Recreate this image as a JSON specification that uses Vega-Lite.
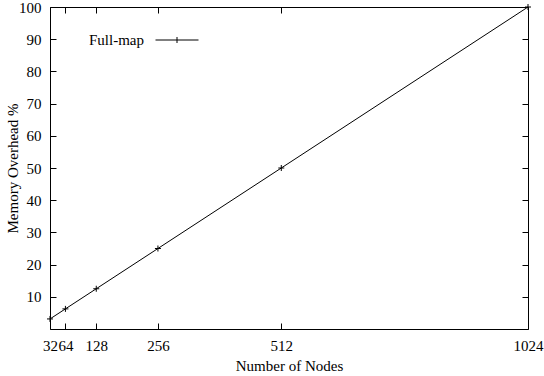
{
  "$schema": "https://vega.github.io/schema/vega-lite/v6.json",
  "width": 478,
  "height": 322,
  "autosize": {"type": "none"},
  "padding": {"left": 50, "top": 7, "right": 16, "bottom": 47},
  "background": "white",
  "config": {
    "view": {"stroke": "black", "strokeWidth": 1},
    "font": "Liberation Serif",
    "axis": {
      "labelFont": "Liberation Serif",
      "titleFont": "Liberation Serif",
      "labelFontSize": 15,
      "titleFontSize": 15,
      "titleFontWeight": "normal",
      "labelColor": "black",
      "titleColor": "black",
      "tickColor": "black",
      "domain": false,
      "grid": false,
      "tickSize": -6,
      "labelOverlap": false,
      "labelFlush": false
    }
  },
  "data": {
    "values": [
      {"nodes": 32, "overhead": 3.125, "series": "Full-map"},
      {"nodes": 64, "overhead": 6.25, "series": "Full-map"},
      {"nodes": 128, "overhead": 12.5, "series": "Full-map"},
      {"nodes": 256, "overhead": 25, "series": "Full-map"},
      {"nodes": 512, "overhead": 50, "series": "Full-map"},
      {"nodes": 1024, "overhead": 100, "series": "Full-map"}
    ]
  },
  "layer": [
    {
      "mark": {
        "type": "line",
        "strokeWidth": 1,
        "point": {"shape": "M-1,0H1M0,-1V1", "size": 36, "filled": false, "strokeWidth": 1}
      },
      "encoding": {
        "x": {
          "field": "nodes", "type": "quantitative",
          "scale": {"domain": [32, 1024], "nice": false, "zero": false},
          "axis": {"orient": "bottom", "values": [32, 64, 128, 256, 512, 1024], "format": "d", "title": "Number of Nodes", "labelPadding": 15, "titlePadding": 5}
        },
        "y": {
          "field": "overhead", "type": "quantitative",
          "scale": {"domain": [0, 100], "nice": false},
          "axis": {"orient": "left", "values": [10, 20, 30, 40, 50, 60, 70, 80, 90, 100], "format": "d", "title": "Memory Overhead %", "labelPadding": 15, "titlePadding": -2}
        },
        "color": {
          "field": "series", "type": "nominal",
          "scale": {"range": ["black"]},
          "legend": {
            "orient": "none", "legendX": 105, "legendY": 11, "title": null, "padding": 0,
            "symbolType": "M-1,0H1M0,-0.14V0.14", "symbolSize": 1849, "symbolStrokeWidth": 1,
            "symbolStrokeColor": "black", "symbolFillColor": "transparent",
            "labelAlign": "right", "labelOffset": -55,
            "labelFont": "Liberation Serif", "labelFontSize": 15, "labelColor": "black"
          }
        }
      }
    },
    {
      "mark": {"type": "point", "opacity": 0},
      "encoding": {
        "x": {"field": "nodes", "type": "quantitative", "axis": {"orient": "top", "values": [32, 64, 128, 256, 512, 1024], "labels": false, "title": null}},
        "y": {"field": "overhead", "type": "quantitative", "axis": {"orient": "right", "values": [10, 20, 30, 40, 50, 60, 70, 80, 90, 100], "labels": false, "title": null}}
      }
    }
  ]
}
